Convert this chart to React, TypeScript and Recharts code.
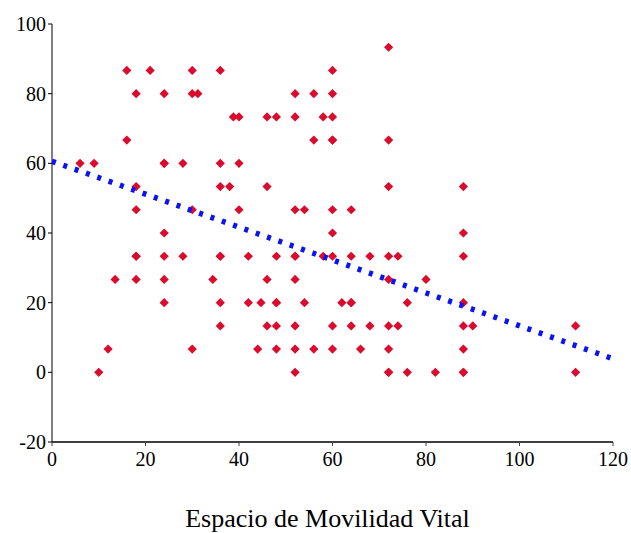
import React from 'react';
import { ScatterChart, Scatter, XAxis, YAxis, Label } from 'recharts';

/* ─────── Datos ─────── */
const movilidadX = [
  72,
  16, 21, 30, 36, 60,
  18, 24, 30, 31.2, 52, 56, 60,
  38.8, 40, 46, 48, 52, 58, 60,
  16, 56, 60, 60, 72,
  6, 9, 24, 24, 28, 36, 40,
  18, 36, 38, 46, 72, 88,
  18, 30, 40, 52, 54, 60, 64,
  24, 60, 88,
  18, 18, 24, 28, 36, 36, 42, 48, 52, 52, 58, 60, 64, 68, 72, 74, 88,
  13.5, 18, 24, 34.4, 46, 52, 72, 80,
  24, 36, 42, 44.7, 48, 48, 54, 62, 64, 64, 76, 88,
  36, 46, 48, 52, 60, 64, 68, 72, 74, 88, 90, 112,
  12, 30, 44, 48, 52, 56, 60, 66, 72, 88,
  10, 52, 72, 72, 76, 82, 88, 88, 112,
];

const puntajeY = [
  93.33,
  86.67, 86.67, 86.67, 86.67, 86.67,
  80, 80, 80, 80, 80, 80, 80,
  73.33, 73.33, 73.33, 73.33, 73.33, 73.33, 73.33,
  66.67, 66.67, 66.67, 66.67, 66.67,
  60, 60, 60, 60, 60, 60, 60,
  53.33, 53.33, 53.33, 53.33, 53.33, 53.33,
  46.67, 46.67, 46.67, 46.67, 46.67, 46.67, 46.67,
  40, 40, 40,
  33.33, 33.33, 33.33, 33.33, 33.33, 33.33, 33.33, 33.33, 33.33, 33.33, 33.33, 33.33, 33.33, 33.33, 33.33, 33.33, 33.33,
  26.67, 26.67, 26.67, 26.67, 26.67, 26.67, 26.67, 26.67,
  20, 20, 20, 20, 20, 20, 20, 20, 20, 20, 20, 20,
  13.33, 13.33, 13.33, 13.33, 13.33, 13.33, 13.33, 13.33, 13.33, 13.33, 13.33, 13.33,
  6.67, 6.67, 6.67, 6.67, 6.67, 6.67, 6.67, 6.67, 6.67, 6.67,
  0, 0, 0, 0, 0, 0, 0, 0, 0,
];

// Recta de tendencia (extremos)
const tendenciaX = [0, 120];
const tendenciaY = [60.6, 3.9];

const xTicks = [0, 20, 40, 60, 80, 100, 120];
const yTicks = [-20, 0, 20, 40, 60, 80, 100];

const puntos = movilidadX.map((x, i) => ({ x, y: puntajeY[i] }));
const tendencia = tendenciaX.map((x, i) => ({ x, y: tendenciaY[i] }));

const FONT = '"Liberation Serif", "Times New Roman", serif';

const Rombo = (props: any) => {
  const { cx, cy } = props;
  const r = 4.6;
  return (
    <polygon
      points={`${cx},${cy - r} ${cx + r},${cy} ${cx},${cy + r} ${cx - r},${cy}`}
      fill="#dc0a2c"
    />
  );
};

export default function App() {
  return (
    <div style={{ position: 'absolute', left: 0, top: 0, background: '#fff' }}>
      <ScatterChart
        width={631}
        height={533}
        margin={{ top: 24, right: 18, bottom: 6, left: 0 }}
      >
        <XAxis
          type="number"
          dataKey="x"
          domain={[0, 120]}
          ticks={xTicks}
          height={85}
          tickSize={4}
          tickMargin={6}
          axisLine={{ stroke: '#404040', strokeWidth: 2 }}
          tickLine={{ stroke: '#404040' }}
          tick={{ fill: '#000', fontSize: 20, fontFamily: FONT }}
          allowDataOverflow
        >
          <Label
            value="Espacio de Movilidad Vital"
            position="insideBottom"
            offset={0}
            dx={-5}
            style={{ fill: '#000', fontSize: 26, fontFamily: FONT }}
          />
        </XAxis>
        <YAxis
          type="number"
          dataKey="y"
          domain={[-20, 100]}
          ticks={yTicks}
          width={52}
          tickSize={4}
          tickMargin={2}
          axisLine={{ stroke: '#000' }}
          tickLine={{ stroke: '#000' }}
          tick={{ fill: '#000', fontSize: 20, fontFamily: FONT }}
          allowDataOverflow
        />
        <Scatter data={puntos} shape={Rombo} isAnimationActive={false} />
        <Scatter
          data={tendencia}
          shape={() => <g />}
          line={{ stroke: '#0a14f0', strokeWidth: 5.5, strokeDasharray: '4 8' }}
          isAnimationActive={false}
        />
      </ScatterChart>
    </div>
  );
}
